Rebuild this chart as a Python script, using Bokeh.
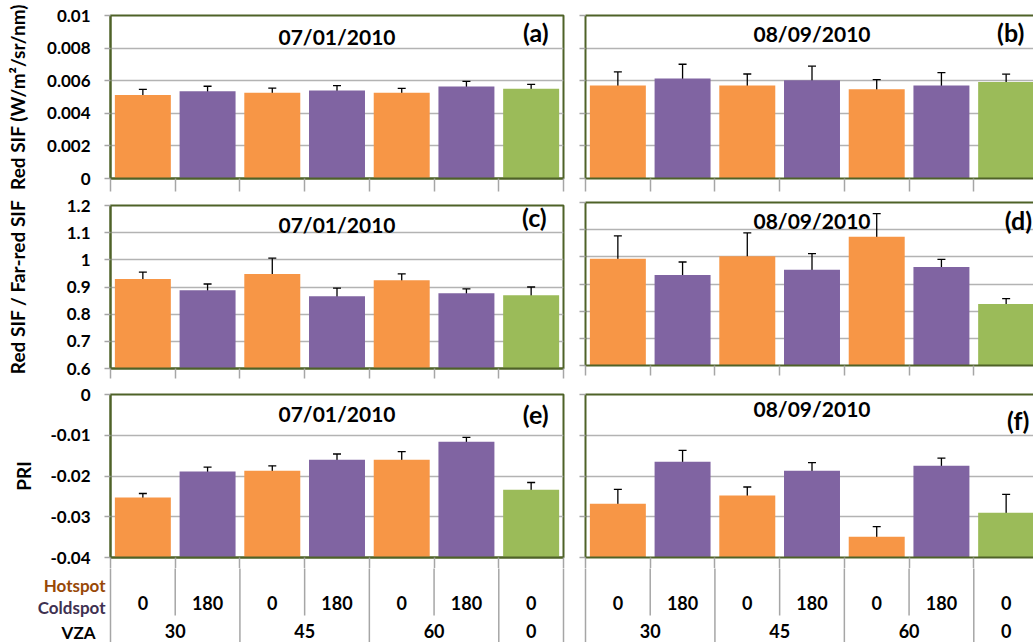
from bokeh.plotting import figure
from bokeh.models import (Range1d, LinearAxis, FixedTicker, Grid, Label, Whisker,
                          TeeHead, ColumnDataSource, Spacer)
from bokeh.core.properties import value
from bokeh.layouts import row, column
from bokeh.embed import file_html
from bokeh.resources import INLINE

# ---------------- data ----------------
azimuth_labels = ["0", "180", "0", "180", "0", "180", "0"]
vza_labels = ["30", "45", "60", "0"]
vza_group_sizes = [2, 2, 2, 1]
spot_type = ["Hotspot", "Coldspot", "Hotspot", "Coldspot", "Hotspot", "Coldspot", "Nadir"]
dates = ["07/01/2010", "08/09/2010"]

red_sif_0701 = [0.00513, 0.00536, 0.00526, 0.00540, 0.00526, 0.00564, 0.00550]
red_sif_0701_err = [0.00034, 0.00030, 0.00029, 0.00030, 0.00027, 0.00032, 0.00027]
red_sif_0809 = [0.00571, 0.00614, 0.00571, 0.00602, 0.00547, 0.00571, 0.00592]
red_sif_0809_err = [0.00083, 0.00087, 0.00070, 0.00087, 0.00060, 0.00079, 0.00048]

ratio_0701 = [0.929, 0.888, 0.948, 0.866, 0.925, 0.877, 0.870]
ratio_0701_err = [0.026, 0.023, 0.058, 0.030, 0.023, 0.016, 0.030]
ratio_0809 = [0.993, 0.933, 1.002, 0.952, 1.074, 0.963, 0.826]
ratio_0809_err = [0.084, 0.048, 0.086, 0.060, 0.085, 0.028, 0.020]

pri_0701 = [-0.0253, -0.0189, -0.0187, -0.0160, -0.0160, -0.0116, -0.0234]
pri_0701_err = [0.0010, 0.0011, 0.0012, 0.0014, 0.0020, 0.0011, 0.0018]
pri_0809 = [-0.0268, -0.0165, -0.0248, -0.0187, -0.0349, -0.0175, -0.0290]
pri_0809_err = [0.0035, 0.0028, 0.0021, 0.0020, 0.0025, 0.0019, 0.0045]

sif_ticks = [0, 0.002, 0.004, 0.006, 0.008, 0.01]
sif_tick_labels = ["0", "0.002", "0.004", "0.006", "0.008", "0.01"]
ratio_ticks = [0.6, 0.7, 0.8, 0.9, 1.0, 1.1, 1.2]
ratio_tick_labels = ["0.6", "0.7", "0.8", "0.9", "1", "1.1", "1.2"]
pri_ticks = [-0.04, -0.03, -0.02, -0.01, 0]
pri_tick_labels = ["-0.04", "-0.03", "-0.02", "-0.01", "0"]

row_names = ["Hotspot", "Coldspot", "VZA"]

# ---------------- style ----------------
COLORS = {"Hotspot": "#F79646", "Coldspot": "#8064A2", "Nadir": "#9BBB59"}
ROW_NAME_COLORS = ["#984807", "#3F3151", "black"]
OLIVE = "#4F6228"
GRID = "#B3B3B3"
TICK = "#A6A6A6"
FONT = "Lato"
CAT_PX = 453 / 7.0          # pixel width of one category

n_cat = len(azimuth_labels)
cat_centers = [i + 0.5 for i in range(n_cat)]
boundaries = list(range(n_cat + 1))
group_bounds = [0]
for s in vza_group_sizes:
    group_bounds.append(group_bounds[-1] + s)
group_centers = [(group_bounds[i] + group_bounds[i + 1]) / 2 for i in range(len(vza_group_sizes))]

LEFT_W, RIGHT_W = 573, 460
LEFT_BL, LEFT_BR = 110, 10
RIGHT_BL = 12
RIGHT_XEND = (RIGHT_W - RIGHT_BL) / CAT_PX
AXIS_ROW_H = 74
AXIS_Y0 = 11       # axis-row y coordinates = pixels below the bottom frame edge


def make_panel(vals, errs, yr, yticks, ylabels, date, letter, *, left, h, top, bottom,
               date_dy, letter_dy, letter_x, ylab=None, ylab_standoff=10, tick_len=13):
    if left:
        w, bl, br, xend = LEFT_W, LEFT_BL, LEFT_BR, n_cat
    else:
        w, bl, br, xend = RIGHT_W, RIGHT_BL, 0, RIGHT_XEND
    fh = h - top - bottom
    p = figure(width=w, height=h, x_range=Range1d(0, xend), y_range=Range1d(*yr),
               x_axis_location=None, y_axis_location=None, toolbar_location=None,
               output_backend="svg", min_border_left=bl, min_border_right=br,
               min_border_top=top, min_border_bottom=bottom)
    p.xgrid.grid_line_color = None
    p.ygrid.grid_line_color = None
    p.outline_line_color = OLIVE if left else None
    p.outline_line_width = 2

    yt = FixedTicker(ticks=yticks)
    if left:
        yax = LinearAxis(ticker=yt, axis_line_color=OLIVE, axis_line_width=2,
                         major_tick_out=6, major_tick_in=0, major_tick_line_color=TICK,
                         major_tick_line_width=1.5, minor_tick_line_color=None,
                         major_label_overrides=dict(zip(yticks, ylabels)),
                         major_label_text_font=FONT, major_label_text_font_style="bold",
                         major_label_text_font_size="17px", major_label_text_color="black",
                         major_label_standoff=14,
                         axis_label=ylab, axis_label_text_font=FONT,
                         axis_label_text_font_style="bold", axis_label_text_font_size="19px",
                         axis_label_text_color="black", axis_label_standoff=ylab_standoff)
    else:
        yax = LinearAxis(ticker=FixedTicker(ticks=[], minor_ticks=yticks),
                         axis_line_color=OLIVE, axis_line_width=2,
                         major_tick_out=0, major_tick_in=0, major_tick_line_color=None,
                         minor_tick_out=6, minor_tick_in=0, minor_tick_line_color=TICK,
                         minor_tick_line_width=1.5, major_label_standoff=0)
        tax = LinearAxis(ticker=FixedTicker(ticks=[]), axis_line_color=OLIVE, axis_line_width=2,
                         major_tick_out=0, major_tick_in=0, major_label_standoff=0,
                         minor_tick_line_color=None, major_tick_line_color=None)
        p.add_layout(tax, "above")
    p.add_layout(yax, "left")
    p.add_layout(Grid(dimension=1, ticker=yt, grid_line_color=GRID, grid_line_width=1.5))

    src = ColumnDataSource(dict(
        x=cat_centers, top=vals,
        upper=[v + e for v, e in zip(vals, errs)],
        lower=[v - e for v, e in zip(vals, errs)],
        color=[COLORS[s] for s in spot_type]))
    p.vbar(x="x", top="top", bottom=yr[0], width=0.865, fill_color="color",
           line_color=None, source=src)
    p.add_layout(Whisker(source=src, base="x", upper="upper", lower="lower",
                         line_color="black", line_width=1.3,
                         upper_head=TeeHead(size=8, line_color="black", line_width=1.3),
                         lower_head=TeeHead(size=8, line_color="black", line_width=1.3)))

    xax = LinearAxis(ticker=FixedTicker(ticks=[], minor_ticks=boundaries),
                     axis_line_color=OLIVE, axis_line_width=2,
                     major_tick_out=0, major_tick_in=0, major_label_standoff=0,
                     major_tick_line_color=None,
                     minor_tick_out=tick_len, minor_tick_in=0,
                     minor_tick_line_color=TICK, minor_tick_line_width=1.5)
    p.add_layout(xax, "below")

    p.add_layout(Label(x=n_cat / 2, y=fh - date_dy, y_units="screen", text=date,
                       text_font=FONT, text_font_style="bold", text_font_size="21px",
                       text_align="center", text_baseline="middle", text_color="black"))
    p.add_layout(Label(x=letter_x, y=fh - letter_dy, y_units="screen", text=letter,
                       text_font=FONT, text_font_style="bold", text_font_size="25px",
                       text_align="right", text_baseline="middle", text_color="black"))
    return p


def bare_fig(w, xr):
    p = figure(width=w, height=AXIS_ROW_H, x_range=xr,
               y_range=Range1d(AXIS_Y0 + AXIS_ROW_H, AXIS_Y0),
               x_axis_location=None, y_axis_location=None, toolbar_location=None,
               output_backend="svg", min_border_left=0, min_border_right=0,
               min_border_top=0, min_border_bottom=0)
    p.xgrid.grid_line_color = None
    p.ygrid.grid_line_color = None
    p.outline_line_color = None
    return p


def make_axis_row(w, xr):
    """Multi-level category axis (azimuth / VZA) under the bottom panels."""
    p = bare_fig(w, xr)
    p.segment(x0=boundaries, x1=boundaries, y0=AXIS_Y0 - 2,
              y1=[AXIS_Y0 + AXIS_ROW_H + 2 if b in group_bounds else 58 for b in boundaries],
              line_color=TICK, line_width=1.5)
    p.text(x=cat_centers, y=45, text=azimuth_labels, text_font=value(FONT),
           text_font_style="bold", text_font_size="18px", text_align="center",
           text_baseline="middle", text_color="black")
    p.text(x=group_centers, y=73, text=vza_labels, text_font=value(FONT),
           text_font_style="bold", text_font_size="18px", text_align="center",
           text_baseline="middle", text_color="black")
    return p


pa = make_panel(red_sif_0701, red_sif_0701_err, (0, 0.01), sif_ticks, sif_tick_labels,
                dates[0], "(a)", left=True, h=195, top=15, bottom=17, date_dy=21,
                letter_dy=16.5, letter_x=6.77, ylab="Red SIF (W/m²/sr/nm)",
                ylab_standoff=15, tick_len=13)
pc = make_panel(ratio_0701, ratio_0701_err, (0.6, 1.2), ratio_ticks, ratio_tick_labels,
                dates[0], "(c)", left=True, h=189, top=10, bottom=16, date_dy=18.5,
                letter_dy=11, letter_x=6.74, ylab="Red SIF / Far-red SIF",
                ylab_standoff=35, tick_len=10)
pe = make_panel(pri_0701, pri_0701_err, (-0.04, 0), pri_ticks, pri_tick_labels,
                dates[0], "(e)", left=True, h=184, top=10, bottom=11, date_dy=19,
                letter_dy=19, letter_x=6.77, ylab="PRI", ylab_standoff=13, tick_len=11)

# row-name labels under the y axis of panel (e)
LBL_W = 108
names_fig = bare_fig(LBL_W, Range1d(0, LBL_W))
names_fig.text(x=[LBL_W - 3, LBL_W - 3, LBL_W - 13], y=[28, 50, 75], text=row_names,
               text_font=value(FONT), text_font_style="bold", text_font_size="17px",
               text_align="right", text_baseline="middle", text_color=ROW_NAME_COLORS)
pe_axis = make_axis_row(LEFT_W - LBL_W, Range1d(-(LEFT_BL - LBL_W) / CAT_PX,
                                               n_cat + LEFT_BR / CAT_PX))

pb = make_panel(red_sif_0809, red_sif_0809_err, (0, 0.01), sif_ticks, sif_tick_labels,
                dates[1], "(b)", left=False, h=195, top=15, bottom=17, date_dy=18,
                letter_dy=16.5, letter_x=6.78, tick_len=13)
pd_ = make_panel(ratio_0809, ratio_0809_err, (0.6, 1.2), ratio_ticks, ratio_tick_labels,
                 dates[1], "(d)", left=False, h=187, top=7, bottom=17, date_dy=18,
                 letter_dy=17, letter_x=6.9, tick_len=10)
pf = make_panel(pri_0809, pri_0809_err, (-0.04, 0), pri_ticks, pri_tick_labels,
                dates[1], "(f)", left=False, h=186, top=12, bottom=11, date_dy=14,
                letter_dy=25, letter_x=6.86, tick_len=11)
SP_W = RIGHT_BL - 2
pf_axis = make_axis_row(RIGHT_W - SP_W, Range1d(-(RIGHT_BL - SP_W) / CAT_PX, RIGHT_XEND))

layout = row(column(pa, pc, pe, row(names_fig, pe_axis)),
             column(pb, pd_, pf, row(Spacer(width=SP_W, height=AXIS_ROW_H), pf_axis)))
open("out.html", "w").write(file_html(layout, INLINE))
